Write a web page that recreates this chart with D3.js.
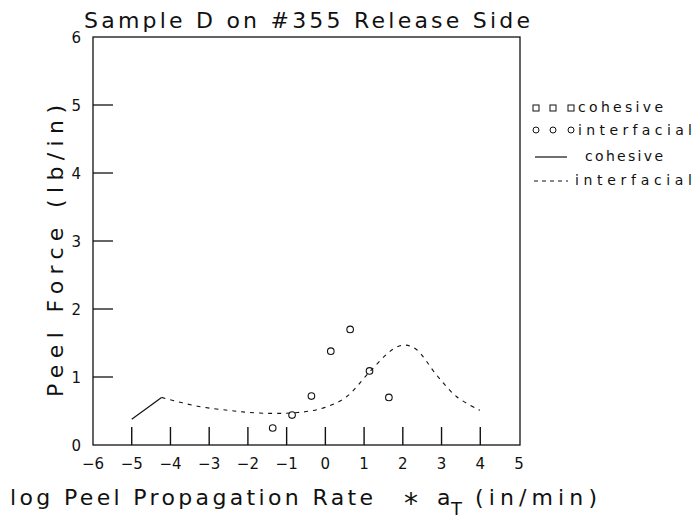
<!DOCTYPE html>
<html>
<head>
<meta charset="utf-8">
<script src="https://cdn.jsdelivr.net/npm/d3@7"></script>
<style>
  body { margin: 0; background: #fff; }
  text { font-family: "DejaVu Sans", sans-serif; fill: #111; }
</style>
</head>
<body>
<div id="chart"></div>
<script>
// interfacial points (circles)
var interX = [-1.36, -0.86, -0.36, 0.14, 0.64, 1.14, 1.64];
var interY = [0.25, 0.44, 0.72, 1.38, 1.70, 1.09, 0.70];

// cohesive fit (solid)
var cohFitX = [-5.0, -4.23];
var cohFitY = [0.38, 0.70];

// interfacial fit (dashed)
var intFitX = [-4.23, -3.3, -2.5, -2.0, -1.4, -0.9, -0.4, 0.03, 0.55, 1.15, 1.75, 2.06, 2.36, 2.87, 3.39, 3.99];
var intFitY = [0.70, 0.57, 0.51, 0.48, 0.465, 0.47, 0.50, 0.56, 0.71, 1.08, 1.41, 1.47, 1.40, 1.03, 0.71, 0.51];

var xTicks = [-6, -5, -4, -3, -2, -1, 0, 1, 2, 3, 4, 5];
var yTicks = [0, 1, 2, 3, 4, 5, 6];

var svg = d3.select("#chart")
    .append("svg")
    .attr("width", 696)
    .attr("height", 519);

var x = d3.scaleLinear().domain([-6, 5]).range([93, 519]);
var y = d3.scaleLinear().domain([0, 6]).range([445, 37]);

// frame
svg.append("rect")
    .attr("x", x(-6)).attr("y", y(6))
    .attr("width", 520 - x(-6)).attr("height", y(0) - y(6))
    .attr("fill", "none").attr("stroke", "#111").attr("stroke-width", 1.3);

// x ticks (upward, interior)
svg.append("g").selectAll("line")
    .data(xTicks.filter(function(d) { return d > -6 && d < 5; }))
    .enter().append("line")
    .attr("x1", function(d) { return x(d); })
    .attr("x2", function(d) { return x(d); })
    .attr("y1", y(0)).attr("y2", y(0) - 18)
    .attr("stroke", "#111").attr("stroke-width", 1.4);

svg.append("g").selectAll("text")
    .data(xTicks)
    .enter().append("text")
    .attr("x", function(d) { return x(d); })
    .attr("y", 469)
    .attr("text-anchor", "middle")
    .style("font-size", "15px")
    .text(function(d) { return d < 0 ? "\u2212" + (-d) : d; });

// y ticks (rightward, interior)
svg.append("g").selectAll("line")
    .data(yTicks.filter(function(d) { return d > 0 && d < 6; }))
    .enter().append("line")
    .attr("x1", x(-6)).attr("x2", x(-6) + 20)
    .attr("y1", function(d) { return y(d); })
    .attr("y2", function(d) { return y(d); })
    .attr("stroke", "#111").attr("stroke-width", 1.3);

svg.append("g").selectAll("text")
    .data(yTicks)
    .enter().append("text")
    .attr("x", 81)
    .attr("y", function(d) { return y(d) + 6; })
    .attr("text-anchor", "end")
    .style("font-size", "15px")
    .text(function(d) { return d; });

var line = d3.line()
    .x(function(d) { return x(d[0]); })
    .y(function(d) { return y(d[1]); });

svg.append("path")
    .datum(d3.zip(cohFitX, cohFitY))
    .attr("fill", "none").attr("stroke", "#111").attr("stroke-width", 1.2)
    .attr("d", line);

svg.append("path")
    .datum(d3.zip(intFitX, intFitY))
    .attr("fill", "none").attr("stroke", "#111").attr("stroke-width", 1.1)
    .attr("stroke-dasharray", "4,5")
    .attr("d", line.curve(d3.curveCatmullRom));

svg.append("g").selectAll("circle")
    .data(d3.zip(interX, interY))
    .enter().append("circle")
    .attr("cx", function(d) { return x(d[0]); })
    .attr("cy", function(d) { return y(d[1]); })
    .attr("r", 3.3)
    .attr("fill", "none").attr("stroke", "#111").attr("stroke-width", 1.1);

// title
svg.append("text")
    .attr("x", 84).attr("y", 28)
    .attr("textLength", 446).attr("lengthAdjust", "spacing")
    .style("font-size", "22px")
    .text("Sample D on #355 Release Side");

// y axis label
svg.append("text")
    .attr("transform", "translate(63,251) rotate(-90)")
    .attr("text-anchor", "middle")
    .attr("textLength", 292).attr("lengthAdjust", "spacing")
    .style("font-size", "22px")
    .text("Peel Force (lb/in)");

// x axis label
svg.append("text")
    .attr("x", 10).attr("y", 505)
    .attr("textLength", 363).attr("lengthAdjust", "spacing")
    .style("font-size", "22px")
    .text("log Peel Propagation Rate");
svg.append("text")
    .attr("x", 411).attr("y", 513)
    .attr("text-anchor", "middle")
    .style("font-size", "28px")
    .text("*");
svg.append("text")
    .attr("x", 437).attr("y", 505)
    .style("font-size", "22px")
    .text("a");
svg.append("text")
    .attr("x", 451).attr("y", 515)
    .style("font-size", "18px")
    .text("T");
svg.append("text")
    .attr("x", 475).attr("y", 505)
    .attr("textLength", 122).attr("lengthAdjust", "spacing")
    .style("font-size", "22px")
    .text("(in/min)");

// legend
var lg = svg.append("g");
[536, 553, 571].forEach(function(cx) {
    lg.append("rect").attr("x", cx - 3).attr("y", 105).attr("width", 6).attr("height", 6)
        .attr("fill", "none").attr("stroke", "#111").attr("stroke-width", 1);
    lg.append("circle").attr("cx", cx).attr("cy", 130).attr("r", 3)
        .attr("fill", "none").attr("stroke", "#111").attr("stroke-width", 1);
});
lg.append("text").attr("x", 578).attr("y", 112)
    .attr("textLength", 85).attr("lengthAdjust", "spacing")
    .style("font-size", "14px").text("cohesive");
lg.append("text").attr("x", 578).attr("y", 135)
    .attr("textLength", 114).attr("lengthAdjust", "spacing")
    .style("font-size", "14px").text("interfacial");
lg.append("line").attr("x1", 535).attr("x2", 567).attr("y1", 157).attr("y2", 157)
    .attr("stroke", "#111").attr("stroke-width", 1.2);
lg.append("text").attr("x", 585).attr("y", 161)
    .attr("textLength", 78).attr("lengthAdjust", "spacing")
    .style("font-size", "14px").text("cohesive");
lg.append("line").attr("x1", 534).attr("x2", 568).attr("y1", 181).attr("y2", 181)
    .attr("stroke", "#111").attr("stroke-width", 1.1).attr("stroke-dasharray", "4,4");
lg.append("text").attr("x", 575).attr("y", 185)
    .attr("textLength", 117).attr("lengthAdjust", "spacing")
    .style("font-size", "14px").text("interfacial");
</script>
</body>
</html>
